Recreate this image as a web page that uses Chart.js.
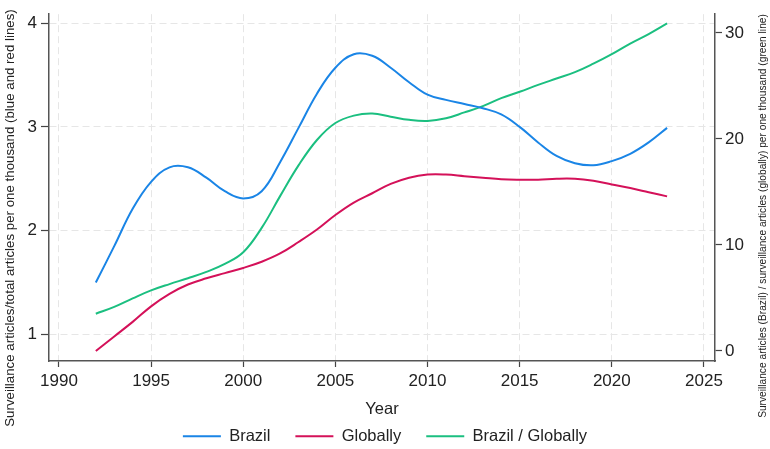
<!DOCTYPE html>
<html>
<head>
<meta charset="utf-8">
<script src="https://cdn.jsdelivr.net/npm/chart.js@4"></script>
<style>
  body { margin: 0; background: #fff; }
  canvas { display: block; }
</style>
</head>
<body>
<canvas id="chart" width="770" height="449"></canvas>
<script>
const years = [1992, 1993, 1994, 1995, 1996, 1997, 1998, 1999, 2000, 2001,
  2002, 2003, 2004, 2005, 2006, 2007, 2008, 2009, 2010, 2011,
  2012, 2013, 2014, 2015, 2016, 2017, 2018, 2019, 2020, 2021, 2022, 2023];

// left axis (per thousand)
const brazil = [1.50, 1.85, 2.21, 2.47, 2.61, 2.61, 2.51, 2.38, 2.31, 2.38,
  2.66, 2.99, 3.32, 3.57, 3.70, 3.685, 3.57, 3.43, 3.31, 3.26,
  3.22, 3.18, 3.12, 3.00, 2.85, 2.72, 2.65, 2.63, 2.67, 2.74, 2.85, 2.99];
const globally = [0.84, 0.98, 1.12, 1.27, 1.39, 1.48, 1.54, 1.59, 1.64, 1.70,
  1.78, 1.89, 2.01, 2.15, 2.27, 2.36, 2.45, 2.51, 2.54, 2.54,
  2.525, 2.51, 2.495, 2.49, 2.49, 2.50, 2.50, 2.48, 2.445, 2.41, 2.37, 2.33];

// right axis
const ratio = [3.5, 4.15, 4.95, 5.7, 6.3, 6.85, 7.45, 8.2, 9.3, 11.6,
  14.6, 17.5, 19.9, 21.5, 22.2, 22.4, 22.1, 21.8, 21.7, 21.95,
  22.5, 23.1, 23.85, 24.45, 25.1, 25.7, 26.3, 27.1, 28.0, 29.0, 29.9, 30.9];

const xTicks = [1990, 1995, 2000, 2005, 2010, 2015, 2020, 2025];
const leftTicks = [1, 2, 3, 4];
const rightTicks = [0, 10, 20, 30];

const leftTitle = "Surveillance articles/total articles per one thousand (blue and red lines)";
const rightTitle = "Surveillance articles (Brazil) / surveillance articles (globally) per one thousand (green line)";

const FONT = "'Liberation Sans', Arial, sans-serif";
Chart.defaults.font.family = FONT;
Chart.defaults.color = "#222";

const toPoints = (vals) => vals.map((v, i) => ({ x: years[i], y: v }));
const fixTicks = (list) => (scale) => {
  scale.ticks = list.map((v) => ({ value: v }));
};

// both y titles read bottom-to-top and sit centred on the figure, so draw them by hand
function drawSideTitle(ctx, text, size, x, y) {
  ctx.save();
  ctx.fillStyle = "#222";
  ctx.textAlign = "center";
  ctx.textBaseline = "middle";
  ctx.font = size + "px " + FONT;
  ctx.translate(x, y);
  ctx.rotate(-Math.PI / 2);
  ctx.fillText(text, 0, 0);
  ctx.restore();
}

const sideTitles = {
  id: "sideTitles",
  afterDraw(chart) {
    drawSideTitle(chart.ctx, leftTitle, 13.3, 10, 218);
    drawSideTitle(chart.ctx, rightTitle, 10.2, 763, 216);
  },
};

const gridColor = "#e6e6e6";
const axisColor = "#555";

new Chart(document.getElementById("chart"), {
  type: "line",
  data: {
    datasets: [
      {
        label: "Brazil",
        data: toPoints(brazil),
        borderColor: "#1a85e6",
        backgroundColor: "#1a85e6",
        yAxisID: "y",
      },
      {
        label: "Globally",
        data: toPoints(globally),
        borderColor: "#d41159",
        backgroundColor: "#d41159",
        yAxisID: "y",
      },
      {
        label: "Brazil / Globally",
        data: toPoints(ratio),
        borderColor: "#1bbf80",
        backgroundColor: "#1bbf80",
        yAxisID: "y1",
      },
    ],
  },
  options: {
    responsive: false,
    animation: false,
    elements: {
      point: { radius: 0 },
      line: { borderWidth: 2, tension: 0.4, fill: false },
    },
    layout: { padding: { top: 10, left: 0, right: 0, bottom: 0 } },
    plugins: {
      tooltip: { enabled: false },
      legend: {
        position: "bottom",
        maxHeight: 46,
        labels: {
          boxWidth: 38,
          boxHeight: 2,
          padding: 25,
          font: { size: 16.5 },
          color: "#222",
          generateLabels: (chart) =>
            Chart.defaults.plugins.legend.labels
              .generateLabels(chart)
              .map((l) => ({ ...l, fillStyle: l.strokeStyle, lineWidth: 0 })),
        },
      },
    },
    scales: {
      x: {
        type: "linear",
        min: 1989.46,
        max: 2025.6,
        afterBuildTicks: fixTicks(xTicks),
        afterFit: (s) => { s.height = 42; },
        grid: { color: gridColor, lineWidth: 1, tickLength: 6, tickColor: "#444", tickWidth: 1.2 },
        border: { color: axisColor, width: 1.5, dash: [7, 4] },
        ticks: { font: { size: 17 }, color: "#222", padding: 4, maxRotation: 0, callback: (v) => String(v) },
        title: { display: true, text: "Year", font: { size: 16.5 }, color: "#222", padding: { top: 0, bottom: -16 } },
      },
      y: {
        position: "left",
        min: 0.743,
        max: 4.086,
        afterBuildTicks: fixTicks(leftTicks),
        afterFit: (s) => { s.width = 49; },
        grid: { color: gridColor, lineWidth: 1, tickLength: 8, tickColor: "#444", tickWidth: 1.2 },
        border: { color: axisColor, width: 1.5, dash: [7, 4] },
        ticks: { font: { size: 17 }, color: "#222", padding: 4, callback: (v) => String(v) },
      },
      y1: {
        position: "right",
        min: -0.96,
        max: 31.77,
        afterBuildTicks: fixTicks(rightTicks),
        afterFit: (s) => { s.width = 55; },
        grid: { drawOnChartArea: false, tickLength: 7, tickColor: "#444", tickWidth: 1.2 },
        border: { color: axisColor, width: 1.5 },
        ticks: { font: { size: 17 }, color: "#222", padding: 3, callback: (v) => String(v) },
      },
    },
  },
  plugins: [sideTitles],
});
</script>
</body>
</html>
